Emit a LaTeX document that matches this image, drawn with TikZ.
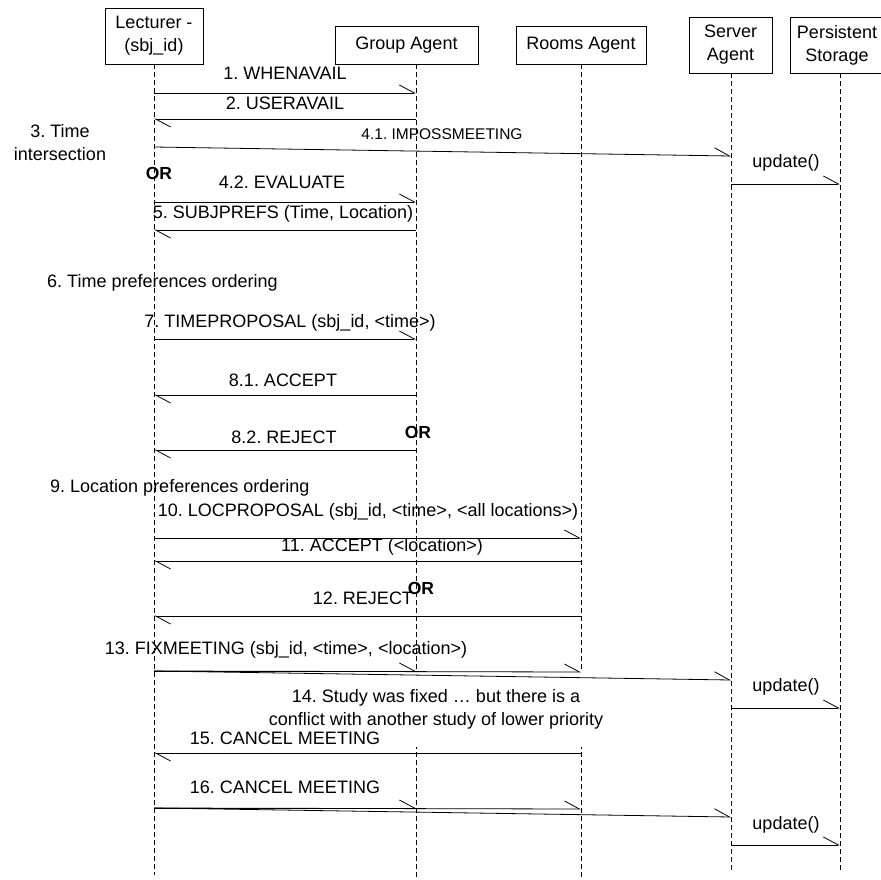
\documentclass[tikz,border=0pt]{standalone}
\usepackage{fontspec}
\setmainfont{Liberation Sans}
\usetikzlibrary{arrows.meta}
\frenchspacing
\begin{document}
\begin{tikzpicture}[x=1pt,y=-1pt,
  lbl/.style={font=\fontsize{18}{23}\selectfont, inner sep=0pt},
  small/.style={font=\fontsize{15.5}{18}\selectfont, inner sep=0pt},
  actor/.style={draw=black, fill=white, line width=0.8pt, font=\fontsize{18}{23}\selectfont, align=center, inner sep=0pt},
  life/.style={dash pattern=on 5pt off 3pt, line width=0.7pt, draw=black},
  msg/.style={line width=0.8pt, -{Straight Barb[harpoon, length=15pt, width=16pt]}},
  ortxt/.style={font=\fontsize{17.5}{20}\selectfont\bfseries, inner sep=0pt}
]
\useasboundingbox (0,0) rectangle (881,879);
\clip (0,0) rectangle (881,879);
\fill[white] (0,0) rectangle (881,879);

% actors
\node[actor, minimum width=98pt, minimum height=56pt] (L) at (154,36) {Lecturer -\\(sbj\_id)};
\node[actor, minimum width=143pt, minimum height=38pt] (G) at (406.5,45) {Group Agent};
\node[actor, minimum width=130pt, minimum height=38pt] (R) at (581,45) {Rooms Agent};
\node[actor, minimum width=83pt, minimum height=56pt] (S) at (730.5,45) {Server\\Agent};
\node[actor, minimum width=94pt, minimum height=56pt] (P) at (837,45) {Persistent\\Storage};

% lifeline x positions
\coordinate (Lx) at (154,0);
\coordinate (Gx) at (416,0);
\coordinate (Rx) at (581,0);
\coordinate (Sx) at (731,0);
\coordinate (Px) at (840,0);

\draw[life] (L.south) -- (Lx |- 0,875);
\draw[life] (G.south -| Gx) -- (Gx |- 0,878);
\draw[life] (R.south) -- (Rx |- 0,878);
\draw[life] (S.south -| Sx) -- (Sx |- 0,870);
\draw[life] (P.south -| Px) -- (Px |- 0,870);

% note 14 (covers the lifelines behind it)
\node[lbl, fill=white, align=center, minimum height=75pt, inner xsep=4pt] (n14) at (436,709.5)
  {14. Study was fixed … but there is a\\conflict with another study of lower priority};

% messages
\draw[msg] (Lx |- 0,93) -- (Gx |- 0,93);
\node[lbl] (m1) at (285,73) {1. WHENAVAIL};
\draw[msg] (Gx |- 0,119) -- (Lx |- 0,119);
\node[lbl] (m2) at (285,103) {2. USERAVAIL};
\node[lbl, align=center] (t3) at (60,143) {3. Time\\intersection};
\draw[msg] (Lx |- 0,147) -- (Sx |- 0,156);
\node[small] (m41) at (442,134) {4.1. IMPOSSMEETING};
\draw[msg] (Sx |- 0,184) -- (Px |- 0,184);
\node[lbl] (u1) at (786,163) {update()};
\node[ortxt] (or1) at (159,173) {OR};
\draw[msg] (Lx |- 0,202) -- (Gx |- 0,202);
\node[lbl] (m42) at (282,182) {4.2. EVALUATE};
\draw[msg] (Gx |- 0,230) -- (Lx |- 0,230);
\node[lbl] (m5) at (283,214) {5. SUBJPREFS (Time, Location)};
\node[lbl, anchor=west] (t6) at (47,283) {6. Time preferences ordering};
\draw[msg] (Lx |- 0,339) -- (Gx |- 0,339);
\node[lbl] (m7) at (290,323) {7. TIMEPROPOSAL (sbj\_id, <time>)};
\draw[msg] (Gx |- 0,395) -- (Lx |- 0,395);
\node[lbl] (m81) at (283,380) {8.1. ACCEPT};
\draw[msg] (Gx |- 0,450) -- (Lx |- 0,450);
\node[lbl] (m82) at (284,437) {8.2. REJECT};
\node[ortxt] (or2) at (418,432) {OR};
\node[lbl, anchor=west] (t9) at (50,488) {9. Location preferences ordering};
\draw[msg] (Lx |- 0,538) -- (Rx |- 0,538);
\node[lbl] (m10) at (368,512) {10. LOCPROPOSAL (sbj\_id, <time>, <all locations>)};
\draw[msg] (Rx |- 0,561) -- (Lx |- 0,561);
\node[lbl] (m11) at (382,547) {11. ACCEPT (<location>)};
\draw[msg] (Rx |- 0,616) -- (Lx |- 0,616);
\node[lbl] (m12) at (363,598) {12. REJECT};
\node[ortxt] (or3) at (421,588) {OR};
\draw[msg] (Lx |- 0,671) -- (Gx |- 0,671);
\draw[msg] (Lx |- 0,671) -- (Rx |- 0,672);
\draw[msg] (Lx |- 0,671) -- (Sx |- 0,680);
\node[lbl] (m13) at (286,650) {13. FIXMEETING (sbj\_id, <time>, <location>)};
\draw[msg] (Sx |- 0,708) -- (Px |- 0,708);
\node[lbl] (u2) at (786,687) {update()};
\draw[msg] (Rx |- 0,753) -- (Lx |- 0,753);
\node[lbl] (m15) at (285,738) {15. CANCEL MEETING};
\draw[msg] (Lx |- 0,808) -- (Gx |- 0,808);
\draw[msg] (Lx |- 0,808) -- (Rx |- 0,809);
\draw[msg] (Lx |- 0,808) -- (Sx |- 0,817);
\node[lbl] (m16) at (285,787) {16. CANCEL MEETING};
\draw[msg] (Sx |- 0,845) -- (Px |- 0,845);
\node[lbl] (u3) at (786,825) {update()};
\end{tikzpicture}
\end{document}
